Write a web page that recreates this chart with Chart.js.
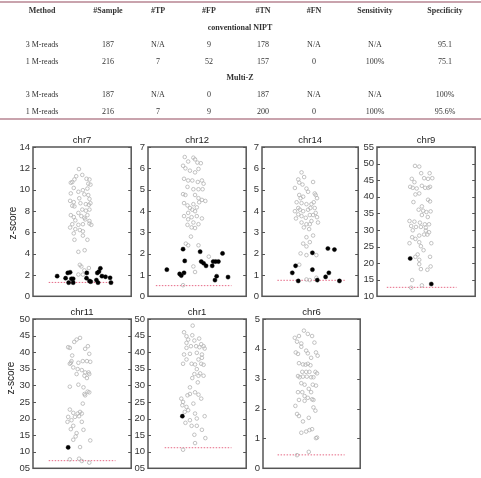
<!DOCTYPE html>
<html>
<head>
<meta charset="utf-8">
<script src="https://cdn.jsdelivr.net/npm/chart.js@4.4.1/dist/chart.umd.min.js"></script>
<style>
  body { margin: 0; background: #fff; width: 481px; height: 478px; position: relative; overflow: hidden; }
  #table, #labels { position: absolute; left: 0; top: 0; width: 481px; height: 478px; filter: grayscale(1); }
  .t { position: absolute; transform: translate(-50%, -50%); font: 8px "Liberation Serif", "DejaVu Serif", serif; color: #333; white-space: nowrap; }
  .t.b { font-weight: bold; }
  .rule { position: absolute; left: 0; width: 481px; height: 1.5px; background: #c9a3ad; }
  canvas { position: absolute; }
  .zl { position: absolute; font: 10px "Liberation Sans", Arial, sans-serif; color: #222; white-space: nowrap; transform: translate(-50%, -50%) rotate(-90deg); }
</style>
</head>
<body>
<div id="table"></div>
<div id="labels"></div>

<script>
// ---- table ----
const tableHeaders = ['Method', '#Sample', '#TP', '#FP', '#TN', '#FN', 'Sensitivity', 'Specificity'];
const convRows = [
  ['3 M-reads', '187', 'N/A', '9', '178', 'N/A', 'N/A', '95.1'],
  ['1 M-reads', '216', '7', '52', '157', '0', '100%', '75.1'],
];
const multiRows = [
  ['3 M-reads', '187', 'N/A', '0', '187', 'N/A', 'N/A', '100%'],
  ['1 M-reads', '216', '7', '9', '200', '0', '100%', '95.6%'],
];

// ---- panels: x is position across the strip (0-100), y is z-score ----
const chr7Grey = [[46.8,11.93],[50.2,11.38],[44,11.26],[42.2,10.96],[40,10.71],[38.5,10.65],[54.5,11.02],[57.5,10.96],[56.3,10.56],[58.5,10.47],
  [41.5,10.16],[55.4,10.1],[46.2,9.8],[50.8,9.95],[38.5,9.65],[47.1,9.19],[52.3,9.56],[56.3,9.49],[57.5,9.13],[37.8,8.95],
  [41.5,8.83],[48.3,8.73],[53.8,8.64],[40,8.49],[56.9,8.58],[58.5,8.73],[42.2,8.43],[50.2,8.13],[53.8,8.03],[57.5,8.13],
  [46.2,7.82],[38.5,7.61],[41.5,7.43],[49.2,7.52],[52.3,7.36],[53.2,7.21],[55.4,7.61],[57.5,7.06],[43.1,7.12],[40,6.76],
  [46.2,6.7],[50.8,6.76],[57.5,6.82],[59.4,6.7],[37.8,6.45],[43.1,6.3],[47.7,6.21],[50.8,6.09],[41.5,5.9],[50.8,5.69],
  [42.2,5.3],[55.4,5.3],[46.2,4.17],[52.6,4.32],[47.7,2.95],[49.2,2.8],[56.9,2.65],[52.3,2.43],[50.8,2.04],[46.2,2.04]];
const chr7Black = [[24.6,1.89],[33.2,1.7],[35.4,2.19],[37.8,2.25],[36.3,1.28],[39.1,1.64],[40.9,1.64],[40.9,1.28],[54.8,2.19],[54.5,1.7],
  [57.5,1.43],[58.8,1.37],[64.6,1.52],[66.2,1.28],[65.5,2.19],[67.1,2.31],[68.6,2.62],[70.2,1.89],[73.8,1.83],[78.5,1.73],[79.4,1.28]];
const chr7Cut = 1.3;

const chr12Grey = [[37.4,6.53],[46.2,6.5],[47.9,6.42],[40.9,6.32],[35.7,6.12],[50.3,6.27],[53.8,6.24],[38.1,6],[42.7,5.89],[47.9,5.81],
  [51.4,5.97],[36.7,5.51],[40.9,5.43],[45.1,5.43],[50.7,5.36],[54.9,5.43],[56.6,5.28],[40.2,5.13],[46.2,5.02],[51.4,5.02],
  [55.6,5.02],[35.7,4.79],[38.1,4.75],[47.9,4.75],[51.4,4.6],[54.9,4.52],[58.4,4.47],[36.7,4.37],[40.2,4.26],[46.2,4.32],
  [52.1,4.41],[49.7,4.17],[42.7,4.14],[45.1,4.06],[40.9,3.91],[47.9,3.99],[36.7,3.76],[44.4,3.71],[49.7,3.76],[54.9,3.65],
  [40.9,3.61],[46.2,3.46],[51.4,3.38],[40.2,3.35],[44.4,3.23],[47.9,3.2],[43.7,2.8],[38.5,2.47],[40.9,2.39],[51.4,2.39],
  [46.2,1.4],[47.9,1.14],[61.9,1.86],[35.7,0.52]];
const chr12Black = [[19.2,1.25],[32.2,1.05],[33.9,0.97],[36.7,1.1],[35.7,2.21],[37.4,1.66],[53.1,2.09],[54.2,1.63],[56.6,1.55],[59.1,1.43],
  [65.4,1.43],[66.4,1.63],[68.9,1.63],[71.7,1.63],[68.2,0.76],[69.9,0.94],[75.9,2.01],[81.5,0.9]];
const chr12Cut = 0.5;

const chr14Grey = [[41.1,5.81],[43.8,5.59],[37.7,5.48],[38.7,5.33],[42.1,5.24],[53.1,5.36],[34.2,5.08],[46.2,5.05],[47.9,4.9],[54.8,4.82],
  [55.8,4.75],[38.7,4.75],[40.1,4.6],[42.8,4.67],[57.2,4.6],[36,4.41],[41.1,4.37],[46.2,4.32],[51.4,4.32],[53.8,4.41],
  [37.7,4.14],[39.4,4.06],[34.2,3.99],[42.8,3.99],[47.9,4.06],[50.3,4.14],[54.8,4.14],[55.8,3.91],[37.7,3.84],[41.1,3.76],
  [45.5,3.68],[49.7,3.81],[53.1,3.81],[57.2,3.71],[35.3,3.65],[41.1,3.46],[46.2,3.38],[49.7,3.38],[51.4,3.53],[58.2,3.46],
  [43.5,3.23],[49,3.15],[53.1,2.85],[46.2,2.77],[42.8,2.47],[49.7,2.54],[46.2,2.34],[40.1,2.01],[46.2,1.93],[56.5,1.93],
  [38.7,1.48],[49.7,0.76],[56.5,0.87],[46.2,0.79]];
const chr14Black = [[31.5,1.1],[34.9,1.43],[37.7,0.72],[52.4,2.04],[52.4,1.25],[57.5,0.76],[66.1,0.91],[68.5,2.24],[69.5,1.1],[75.3,2.19],[80.5,0.72]];
const chr14Cut = 0.75;

const chr9Grey = [[38.7,49.3],[43,49.1],[45,47.1],[53.6,47.1],[48,45.6],[35.4,45.4],[52,45.4],[56.3,45.6],[38.1,44.4],[33.8,43],
  [36.4,42.7],[40.4,42.5],[45.7,43.3],[49,42.7],[52.3,42.7],[54,43],[43,41],[39.1,40.7],[37.1,38.4],[52,39.1],
  [54,38.6],[45.7,37.1],[42.4,36.1],[47,35.8],[50.3,35.4],[54.6,35.6],[45.7,34.5],[51.7,33.9],[33.1,32.7],[38.1,32.5],
  [43.7,32.2],[48.7,31.7],[53,31.7],[34.8,31.2],[39.7,30.9],[44.7,30.9],[49.7,30.7],[36.4,29.9],[49.7,29.8],[53,29.3],
  [43,28.3],[48,28.6],[35.8,27.8],[39.1,27.3],[51.3,28.6],[43,26.3],[55.3,26],[33.1,26],[44.7,25.1],[47.4,23.9],
  [41.4,22.6],[39.1,21.9],[43,21],[54,21.9],[43,19.7],[44.7,18.2],[51.3,18],[54.6,19],[35.8,14.9],[45.7,13.3],[34.8,12.6]];
const chr9Black = [[33.8,21.4],[55.3,13.7]];
const chr9Cut = 12.7;

const chr11Grey = [[47.9,44.3],[44.4,43.8],[42,43.1],[37.5,41.3],[35.8,41.5],[55.9,41.8],[53.1,41],[57.3,39.5],[39.9,39],[39.2,37.3],
  [38.5,36.8],[37.5,36.5],[46.2,36.8],[50.7,37.3],[54.9,37.3],[58.3,37.1],[41,35.4],[45.5,34.9],[49.7,34.6],[53.1,33.9],
  [56.6,33.9],[44.4,33.4],[52.4,32.9],[57.3,33.4],[54.9,32.2],[46.2,30.2],[37.5,29.6],[51.4,29.4],[55.6,28.1],[52.4,27.4],
  [53.1,27],[57.3,27.9],[50.7,24.5],[37.5,22.7],[41,21.7],[45.5,21.5],[47.9,22],[49.7,21.5],[46.9,20.7],[35.8,20.5],
  [42.7,20.5],[39.2,19.5],[49.7,19],[35.1,19],[41,17.8],[38.5,16.8],[51.4,16.6],[44.4,15.6],[43.4,14.6],[58.3,13.4],
  [41,13.6],[47.9,11.4],[37.5,7.7],[46.9,7.9],[49.7,7.2],[57.3,6.7]];
const chr11Black = [[35.8,11.3]];
const chr11Cut = 7.3;

const chr1Grey = [[45.5,48],[36.7,46],[39.2,44.8],[45.1,45.1],[40.9,43.8],[39.2,42.8],[47.2,43.5],[43.7,41.8],[52.1,44.1],[54.2,42.4],
  [56.6,41.8],[49,41.8],[52.4,41.5],[57.7,41.1],[39.2,41.3],[36.7,39.3],[42.7,39.5],[49.7,39.8],[54.9,39.3],[54.9,38.3],
  [51.4,37.8],[39.2,37.8],[35.7,36.5],[47.9,36.3],[54.2,36.5],[56.6,36.2],[44.4,36.5],[49.7,34.9],[47.2,33.4],[53.1,33.6],
  [51.4,32.9],[56.6,32.9],[45.1,32.2],[50.7,30.9],[42.7,29.4],[42.7,27.4],[40.2,27],[47.9,27.9],[51.4,27.2],[54.2,26],
  [33.9,26],[35.7,25],[39.2,23.5],[40.9,22.5],[46.2,24.5],[37.4,22],[35,24],[47.9,21.5],[42.7,19.5],[49.7,20],
  [57.7,20.7],[38.1,18.7],[44.4,17.8],[49.7,17.8],[47.2,15.1],[54.9,16.6],[58.4,14.1],[47.9,12.6],[35.7,10.6]];
const chr1Black = [[35,20.7]];
const chr1Cut = 11.2;

const chr6Grey = [[42.1,4.61],[46.1,4.5],[50.5,4.43],[32.7,4.37],[37,4.43],[35,4.24],[39.4,4.18],[39.4,4.07],[52.9,4.21],[33.7,3.88],
  [36,3.83],[44.4,3.94],[46.1,3.85],[49.5,3.7],[54.5,3.88],[56.2,3.77],[37,3.52],[41.1,3.48],[43.8,3.47],[46.1,3.5],
  [48.8,3.45],[40.4,3.23],[44.4,3.23],[47.8,3.23],[53.9,3.23],[36,3.09],[37.7,3.05],[41.1,3.07],[45.1,3.07],[49.5,3.05],
  [51.9,3.05],[55.6,3.18],[39.4,2.85],[42.8,2.8],[51.2,2.8],[54.5,2.77],[36,2.55],[40.4,2.55],[47.1,2.66],[49.5,2.55],
  [42.8,2.42],[46.1,2.36],[37,2.29],[42.8,2.26],[50.5,2.31],[51.9,2.29],[33.3,2.09],[51.9,2.04],[53.9,1.93],[35,1.82],
  [37,1.75],[47.1,1.69],[41.1,1.57],[39.4,1.19],[44.4,1.23],[47.8,1.28],[50.5,1.31],[54.5,1.01],[55.6,1.03],[47.1,0.55],[35,0.44]];
const chr6Black = [];
const chr6Cut = 0.45;

// panel layout: box left/top/width/height in page pixels, y range, cut line span
const panels = [
  { name: 'chr7',  grey: chr7Grey,  black: chr7Black,  cut: chr7Cut,  span: [16, 83], ymin: 0,  ymax: 14, step: 2, box: [33, 147, 100, 155] },
  { name: 'chr12', grey: chr12Grey, black: chr12Black, cut: chr12Cut, span: [8, 85],  ymin: 0,  ymax: 7,  step: 1, box: [148, 147, 100, 155] },
  { name: 'chr14', grey: chr14Grey, black: chr14Black, cut: chr14Cut, span: [16, 86], ymin: 0,  ymax: 7,  step: 1, box: [262, 147, 98, 155] },
  { name: 'chr9',  grey: chr9Grey,  black: chr9Black,  cut: chr9Cut,  span: [10, 81], ymin: 10, ymax: 55, step: 5, box: [377, 147, 100, 155] },
  { name: 'chr11', grey: chr11Grey, black: chr11Black, cut: chr11Cut, span: [16, 84], ymin: 5,  ymax: 50, step: 5, box: [33, 319, 100, 155] },
  { name: 'chr1',  grey: chr1Grey,  black: chr1Black,  cut: chr1Cut,  span: [17, 85], ymin: 5,  ymax: 50, step: 5, box: [148, 319, 100, 155] },
  { name: 'chr6',  grey: chr6Grey,  black: chr6Black,  cut: chr6Cut,  span: [15, 84], ymin: 0,  ymax: 5,  step: 1, box: [263, 319, 99, 155] },
];

// ---- build table ----
const colX = [42, 108, 158, 209, 263, 314, 375, 445];
const tbl = document.getElementById('table');
const addText = (txt, x, y, bold) => {
  const d = document.createElement('div');
  d.className = bold ? 't b' : 't';
  d.textContent = txt;
  d.style.left = x + 'px';
  d.style.top = y + 'px';
  tbl.appendChild(d);
};
const addRule = (y) => {
  const d = document.createElement('div');
  d.className = 'rule';
  d.style.top = y + 'px';
  document.body.appendChild(d);
};
addRule(1);
addRule(118);
tableHeaders.forEach((h, i) => addText(h, colX[i], 9.5, true));
addText('conventional NIPT', 240, 26.5, true);
convRows.forEach((r, j) => r.forEach((c, i) => addText(c, colX[i], 43.5 + j * 17, false)));
addText('Multi-Z', 240, 77, true);
multiRows.forEach((r, j) => r.forEach((c, i) => addText(c, colX[i], 94 + j * 17, false)));

// z-score labels
[[12, 223], [10, 378]].forEach(([x, y]) => {
  const d = document.createElement('div');
  d.className = 'zl';
  d.textContent = 'z-score';
  d.style.left = x + 'px';
  d.style.top = y + 'px';
  document.getElementById('labels').appendChild(d);
});

// ---- box, inward ticks and title ----
const frame = {
  id: 'frame',
  afterDatasetsDraw(chart) {
    const { ctx, chartArea: a } = chart;
    const y = chart.scales.y;
    ctx.save();
    ctx.strokeStyle = '#555';
    ctx.lineWidth = 1.5;
    ctx.strokeRect(a.left, a.top, a.right - a.left, a.bottom - a.top);
    ctx.lineWidth = 1;
    y.ticks.forEach(t => {
      const py = Math.round(y.getPixelForValue(t.value)) + 0.5;
      ctx.beginPath();
      ctx.moveTo(a.left, py); ctx.lineTo(a.left + 3, py);
      ctx.moveTo(a.right - 3, py); ctx.lineTo(a.right, py);
      ctx.stroke();
    });
    ctx.fillStyle = '#222';
    ctx.font = '9.5px "Liberation Sans", Arial, sans-serif';
    ctx.textAlign = 'center';
    ctx.textBaseline = 'middle';
    ctx.fillText(chart.options.plugins.frame.title, (a.left + a.right) / 2, a.top - 7);
    ctx.restore();
  }
};

const PAD_L = 32, PAD_T = 16, PAD_R = 3, PAD_B = 3;
const toPts = arr => arr.map(([x, y]) => ({ x, y }));

panels.forEach(p => {
  const [L, T, W, H] = p.box;
  const cv = document.createElement('canvas');
  cv.width = W + PAD_L + PAD_R;
  cv.height = H + PAD_T + PAD_B;
  cv.style.left = (L - PAD_L) + 'px';
  cv.style.top = (T - PAD_T) + 'px';
  cv.style.width = cv.width + 'px';
  cv.style.height = cv.height + 'px';
  document.body.appendChild(cv);

  new Chart(cv, {
    type: 'scatter',
    data: {
      datasets: [
        {
          data: toPts(p.black),
          pointRadius: 2.1,
          backgroundColor: '#000',
          borderColor: '#000',
          borderWidth: 0.4,
        },
        {
          data: toPts(p.grey),
          pointRadius: 1.8,
          backgroundColor: 'rgba(0,0,0,0)',
          borderColor: '#b3b3b3',
          borderWidth: 0.8,
        },
        {
          type: 'line',
          data: [{ x: p.span[0], y: p.cut }, { x: p.span[1], y: p.cut }],
          borderColor: '#e66a86',
          borderWidth: 1,
          borderDash: [1.5, 1.5],
          pointRadius: 0,
        },
      ],
    },
    plugins: [frame],
    options: {
      responsive: false,
      animation: false,
      devicePixelRatio: 1,
      layout: { padding: { left: 0, right: PAD_R, top: PAD_T, bottom: PAD_B } },
      scales: {
        x: { type: 'linear', min: 0, max: 100, display: false },
        y: {
          min: p.ymin,
          max: p.ymax,
          afterFit: s => { s.width = PAD_L; },
          grid: { display: false, drawTicks: false },
          border: { display: false },
          ticks: {
            stepSize: p.step,
            padding: 3,
            color: '#333',
            font: { family: '"Liberation Sans", Arial, sans-serif', size: 9.5 },
            callback: v => (p.ymin === 5 && v < 10 ? '0' + v : '' + v),
          },
        },
      },
      plugins: {
        legend: { display: false },
        tooltip: { enabled: false },
        frame: { title: p.name },
      },
    },
  });
});
</script>
</body>
</html>
